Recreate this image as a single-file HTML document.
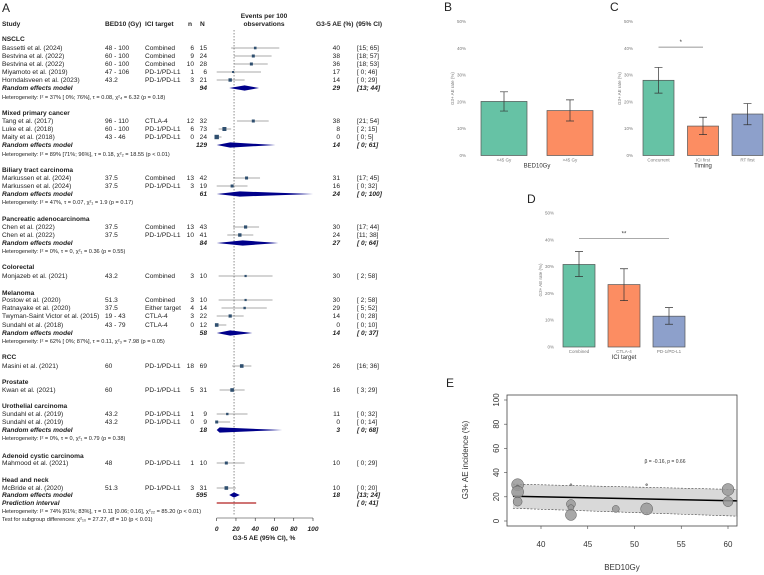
<!DOCTYPE html>
<html><head><meta charset="utf-8"><style>
body{margin:0;background:#fff}
svg{display:block;font-family:"Liberation Sans",sans-serif}
.t{font-size:6.6px;fill:#222}
.b{font-weight:bold}
.bi{font-weight:bold;font-style:italic}
.s{font-size:5.6px;fill:#222}
.tk{font-size:4.5px;fill:#777}
</style></head><body>
<svg id="fig" width="764" height="575" viewBox="0 0 764 575">
<g id="A">
<text x="2" y="12" font-size="12" fill="#222">A</text>
<text class="t b" x="2" y="26">Study</text>
<text class="t b" x="105" y="26">BED10 (Gy)</text>
<text class="t b" x="145" y="26">ICI target</text>
<text class="t b" x="188" y="26">n</text>
<text class="t b" x="200" y="26">N</text>
<text class="t b" x="264" y="18" text-anchor="middle">Events per 100</text>
<text class="t b" x="264" y="26" text-anchor="middle">observations</text>
<text class="t b" x="316" y="26">G3-5 AE (%)</text>
<text class="t b" x="356" y="26">(95% CI)</text>
</g>
<g id="forest"></g>
<g id="bars"></g>
<g id="E"></g>
</svg>
<script>
const NS="http://www.w3.org/2000/svg";
function mk(tag,attrs,parent,txt){const e=document.createElementNS(NS,tag);for(const k in attrs)e.setAttribute(k,attrs[k]);if(txt!==undefined)e.textContent=txt;parent.appendChild(e);return e;}

// ---------- Forest data ----------
const rowTypes=["g","s","s","s","s","s","r","h","g","s","s","s","r","h","g","s","s","r","h","g","s","s","r","h","g","s","g","s","s","s","s","r","h","g","s","g","s","g","s","s","r","h","g","s","g","s","o","p","h","h"];
const rowY=[39,48,56,64,72,80,88,97,113,121,129,137,145,154,170,178,186,194,202,219,227,235,243,251,267,276,293,300,308,316,325,333,341,357,366,382,390,406,414,422,430,438,456,463,480,488,495,503,511,519];
const labels=["NSCLC","Bassetti et al. (2024)","Bestvina et al. (2022)","Bestvina et al. (2022)","Miyamoto et al. (2019)","Horndalsveen et al. (2023)","Random effects model","Heterogeneity: I² = 37% [ 0%; 76%], τ = 0.08, χ²₄ = 6.32 (p = 0.18)",
"Mixed primary cancer","Tang et al. (2017)","Luke et al. (2018)","Maity et al. (2018)","Random effects model","Heterogeneity: I² = 89% [71%; 96%], τ = 0.18, χ²₂ = 18.55 (p < 0.01)",
"Biliary tract carcinoma","Markussen et al. (2024)","Markussen et al. (2024)","Random effects model","Heterogeneity: I² = 47%, τ = 0.07, χ²₁ = 1.9 (p = 0.17)",
"Pancreatic adenocarcinoma","Chen et al. (2022)","Chen et al. (2022)","Random effects model","Heterogeneity: I² = 0%, τ = 0, χ²₁ = 0.36 (p = 0.55)",
"Colorectal","Monjazeb et al. (2021)","Melanoma","Postow et al. (2020)","Ratnayake et al. (2020)","Twyman-Saint Victor et al. (2015)","Sundahl et al. (2018)","Random effects model","Heterogeneity: I² = 62% [ 0%; 87%], τ = 0.11, χ²₃ = 7.98 (p = 0.05)",
"RCC","Masini et al. (2021)","Prostate","Kwan et al. (2021)","Urothelial carcinoma","Sundahl et al. (2019)","Sundahl et al. (2019)","Random effects model","Heterogeneity: I² = 0%, τ = 0, χ²₁ = 0.79 (p = 0.38)",
"Adenoid cystic carcinoma","Mahmood et al. (2021)","Head and neck","McBride et al. (2020)","Random effects model","Prediction interval","Heterogeneity: I² = 74% [61%; 83%], τ = 0.11 [0.06; 0.16], χ²₂₂ = 85.20 (p < 0.01)","Test for subgroup differences: χ²₁₀ = 27.27, df = 10 (p < 0.01)"];
const bedCol={1:"48 - 100",2:"60 - 100",3:"60 - 100",4:"47 - 106",5:"43.2",9:"96 - 110",10:"60 - 100",11:"43 - 46",15:"37.5",16:"37.5",20:"37.5",21:"37.5",25:"43.2",27:"51.3",28:"37.5",29:"19 - 43",30:"43 - 79",34:"60",36:"60",38:"43.2",39:"43.2",43:"48",45:"51.3"};
const iciCol={1:"Combined",2:"Combined",3:"Combined",4:"PD-1/PD-L1",5:"PD-1/PD-L1",9:"CTLA-4",10:"PD-1/PD-L1",11:"PD-1/PD-L1",15:"Combined",16:"PD-1/PD-L1",20:"Combined",21:"PD-1/PD-L1",25:"Combined",27:"Combined",28:"Either target",29:"CTLA-4",30:"CTLA-4",34:"PD-1/PD-L1",36:"PD-1/PD-L1",38:"PD-1/PD-L1",39:"PD-1/PD-L1",43:"PD-1/PD-L1",45:"PD-1/PD-L1"};
const nCol={1:6,2:9,3:10,4:1,5:3,9:12,10:6,11:0,15:13,16:3,20:13,21:10,25:3,27:3,28:4,29:3,30:0,34:18,36:5,38:1,39:0,43:1,45:3};
const NCol={1:15,2:24,3:28,4:6,5:21,6:94,9:32,10:73,11:24,12:129,15:42,16:19,17:61,20:43,21:41,22:84,25:10,27:10,28:14,29:22,30:12,31:58,34:69,36:31,38:9,39:9,40:18,43:10,45:31,46:595};
const est={1:40,2:38,3:36,4:17,5:14,6:29,9:38,10:8,11:0,12:14,15:31,16:16,17:24,20:30,21:24,22:27,25:30,27:30,28:29,29:14,30:0,31:14,34:26,36:16,38:11,39:0,40:3,43:10,45:10,46:18,47:18};
const lo={1:15,2:18,3:18,4:0,5:0,6:13,9:21,10:2,11:0,12:0,15:17,16:0,17:0,20:17,21:11,22:0,25:2,27:2,28:5,29:0,30:0,31:0,34:16,36:3,38:0,39:0,40:0,43:0,45:0,46:13,47:0};
const hi={1:65,2:57,3:53,4:46,5:29,6:44,9:54,10:15,11:5,12:61,15:45,16:32,17:100,20:44,21:38,22:64,25:58,27:58,28:52,29:28,30:10,31:37,34:36,36:29,38:32,39:14,40:68,43:29,45:20,46:24,47:41};
const boxSz={1:2.6,2:3,3:3,4:2,5:3.4,9:3,10:4,11:4.4,15:3,16:3,20:3.2,21:3.4,25:2.2,27:2.2,28:2.4,29:3.2,30:3.6,34:3.6,36:3.6,38:2.4,39:3,43:3,45:3.6};
const axisTicks=[0,20,40,60,80,100];
const pooled=18;

const F=document.getElementById("forest");
const fx=v=>216.7+v*0.963;
// dashed reference line
const dl=mk("line",{x1:fx(pooled),x2:fx(pooled),y1:30,y2:515,stroke:"#444","stroke-width":0.6,"stroke-dasharray":"1.5,1.5"},F);


rowTypes.forEach((t,i)=>{
  const y=rowY[i];
  const g=mk("g",{},F);
  
  
  if(t==="g"){mk("text",{class:"t b",x:2,y:y+2},g,labels[i]);return;}
  if(t==="h"){mk("text",{class:"s",x:2,y:y+2},g,labels[i]);return;}
  const cls=(t==="s")?"t":"t bi";
  mk("text",{class:cls,x:2,y:y+2},g,labels[i]);
  if(bedCol[i])mk("text",{class:"t",x:105,y:y+2},g,bedCol[i]);
  if(iciCol[i])mk("text",{class:"t",x:145,y:y+2},g,iciCol[i]);
  if(nCol[i]!==undefined)mk("text",{class:"t","text-anchor":"end",x:194,y:y+2},g,nCol[i]);
  if(NCol[i]!==undefined)mk("text",{class:cls,"text-anchor":"end",x:207,y:y+2},g,NCol[i]);
  if(t==="p"){
    const l=mk("line",{x1:fx(lo[i]),x2:fx(hi[i]),y1:y,y2:y,stroke:"#b22222","stroke-width":1.2},g);
    
    
    mk("text",{class:cls,x:357,y:y+2},g,"[ "+lo[i]+"; "+hi[i]+"]");
    return;
  }
  mk("text",{class:cls,"text-anchor":"end",x:340,y:y+2},g,est[i]);
  mk("text",{class:cls,x:357,y:y+2},g,(lo[i]<10?"[ ":"[")+lo[i]+"; "+hi[i]+"]");
  if(t==="s"){
    mk("line",{x1:fx(lo[i]),x2:fx(hi[i]),y1:y,y2:y,stroke:"#555","stroke-width":0.5},g);
    const b=boxSz[i]||3;
    const r=mk("rect",{x:fx(est[i])-b/2,y:y-b/2,width:b,height:b,fill:"#2f4f6f"},g);
    
    
  }else{
    const p=mk("polygon",{points:`${fx(lo[i])},${y} ${fx(est[i])},${y-2.6} ${fx(hi[i])},${y} ${fx(est[i])},${y+2.6}`,fill:"#00008b"},g);
    
    
  }
});
const ax=mk("g",{},F);


mk("line",{x1:fx(0),x2:fx(100),y1:518,y2:518,stroke:"#222","stroke-width":0.6},ax);
axisTicks.forEach(v=>{mk("line",{x1:fx(v),x2:fx(v),y1:518,y2:521,stroke:"#222","stroke-width":0.6},ax);mk("text",{class:"t bi","text-anchor":"middle",x:fx(v),y:531},ax,v);});
mk("text",{class:"t b","text-anchor":"middle",x:264,y:540},ax,"G3-5 AE (95% CI), %");

// ---------- Bar panels ----------
const bCats=["<45 Gy",">45 Gy"], bVals=[20.2,16.8], bLo=[16.6,12.9], bHi=[23.8,20.8];
const cCats=["Concurrent","ICI first","RT first"], cVals=[28.1,11.0,15.5], cLo=[23.3,7.8,11.5], cHi=[32.9,14.3,19.4];
const dCats=["Combined","CTLA-4","PD-1/PD-L1"], dVals=[30.8,23.3,11.5], dLo=[26.3,17.3,8.5], dHi=[35.6,29.2,14.7];
const yTicks=[0,10,20,30,40,50];
const cols=["#66c2a5","#fc8d62","#8da0cb"];
const BG=document.getElementById("bars");
function barPanel(name,letter,lx,ly,tickX,y0,y50,barX0,barStep,barW,cats,vals,los,his,xlab,sig){
  const g=mk("g",{},BG);
  
  
  const ys=v=>y0-(y0-y50)*v/50;
  mk("text",{x:lx,y:ly,"font-size":12,fill:"#222"},g,letter);
  yTicks.forEach(v=>mk("text",{class:"tk","text-anchor":"end",x:tickX+8,y:ys(v)+1.5},g,v+"%"));
  mk("text",{class:"tk",transform:`translate(${tickX-4},${(y0+y50)/2}) rotate(-90)`,"text-anchor":"middle","font-size":5,fill:"#444"},g,"G3+ AE rate (%)");
  vals.forEach((v,i)=>{
    const x=barX0+i*barStep;
    const r=mk("rect",{x:x,y:ys(v),width:barW,height:y0-ys(v),fill:cols[i],stroke:"#555","stroke-width":0.7},g);
    
    
    const cx=x+barW/2;
    mk("path",{d:`M${cx-4},${ys(his[i])}H${cx+4}M${cx},${ys(his[i])}V${ys(los[i])}M${cx-4},${ys(los[i])}H${cx+4}`,stroke:"#333","stroke-width":0.7,fill:"none"},g);
    mk("text",{class:"tk","text-anchor":"middle",x:cx,y:y0+6},g,cats[i]);
  });
  const mid=(barX0+barX0+(cats.length-1)*barStep+barW)/2;
  mk("text",{"font-size":6,"text-anchor":"middle",x:mid,y:y0+12,fill:"#333"},g,xlab);
  if(sig){
    const c1=barX0+sig[0]*barStep+barW/2, c2=barX0+sig[1]*barStep+barW/2;
    mk("line",{x1:c1,x2:c2,y1:ys(sig[2]),y2:ys(sig[2]),stroke:"#777","stroke-width":0.7},g);
    mk("text",{"font-size":6,"text-anchor":"middle",x:(c1+c2)/2,y:ys(sig[2])-3,fill:"#333"},g,sig[3]);
  }
}
barPanel("bed10-bar-panel","B",444,11,458,155.5,21.7,481,66,46,bCats,bVals,bLo,bHi,"BED10Gy",null);
barPanel("timing-bar-panel","C",610,11,625,155.5,21.7,643,44.5,31,cCats,cVals,cLo,cHi,"Timing",[0,1,40.5,"*"]);
barPanel("ici-target-bar-panel","D",527,203,546,347,213,563,45,32,dCats,dVals,dLo,dHi,"ICI target",[0,2,40.5,"**"]);

// ---------- Panel E ----------
const eBed=[37.5,37.5,37.5,37.5,43.2,43.2,43.2,43.2,48,51.3,51.3,60,60];
const eInc=[30,28,24,16,30,14,11,5,10,10,30,26,16];
const eSize=[6,2,6,4.5,1,4.5,3,5.5,3.5,6,1,6,5];
const regX=[37,61], regY=[20.5,16.6], upY=[30.5,26], loY=[10.5,4];
const eXT=[40,45,50,55,60], eYT=[0,20,40,60,80,100];
const E=document.getElementById("E");
const ex=v=>541+(v-40)*9.35, ey=v=>521-v*1.21;
mk("text",{x:446,y:387,"font-size":12,fill:"#222"},E,"E");
const band=mk("polygon",{points:`${ex(regX[0])},${ey(upY[0])} ${ex(regX[1])},${ey(upY[1])} ${ex(regX[1])},${ey(loY[1])} ${ex(regX[0])},${ey(loY[0])}`,fill:"#d9d9d9"},E);


[upY,loY].forEach(a=>mk("line",{x1:ex(regX[0]),x2:ex(regX[1]),y1:ey(a[0]),y2:ey(a[1]),stroke:"#444","stroke-width":0.6,"stroke-dasharray":"2,1.5"},E));
const rl=mk("line",{x1:ex(regX[0]),x2:ex(regX[1]),y1:ey(regY[0]),y2:ey(regY[1]),stroke:"#000","stroke-width":1.5},E);


eBed.forEach((b,i)=>{
  const c=mk("circle",{cx:ex(b),cy:ey(eInc[i]),r:eSize[i],fill:"#999",stroke:"#555","stroke-width":0.5,"fill-opacity":0.85},E);
  
  
});
mk("rect",{x:507,y:395,width:230,height:131,fill:"none",stroke:"#444","stroke-width":0.8},E);
eXT.forEach(v=>{mk("line",{x1:ex(v),x2:ex(v),y1:526,y2:529,stroke:"#444","stroke-width":0.6},E);mk("text",{x:ex(v),y:547,"font-size":8,"text-anchor":"middle",fill:"#333"},E,v);});
eYT.forEach(v=>{mk("line",{x1:504,x2:507,y1:ey(v),y2:ey(v),stroke:"#444","stroke-width":0.6},E);mk("text",{x:0,y:0,"font-size":8,"text-anchor":"middle",fill:"#333",transform:`translate(499,${ey(v)}) rotate(-90)`},E,v);});
mk("text",{x:622,y:570,"font-size":8,"text-anchor":"middle",fill:"#333"},E,"BED10Gy");
mk("text",{x:0,y:0,"font-size":8,"text-anchor":"middle",fill:"#333",transform:"translate(468,460) rotate(-90)"},E,"G3+ AE incidence (%)");
mk("text",{x:665,y:463,"font-size":5,"text-anchor":"middle",fill:"#333"},E,"β = -0.16, p = 0.66");
</script>
</body></html>
